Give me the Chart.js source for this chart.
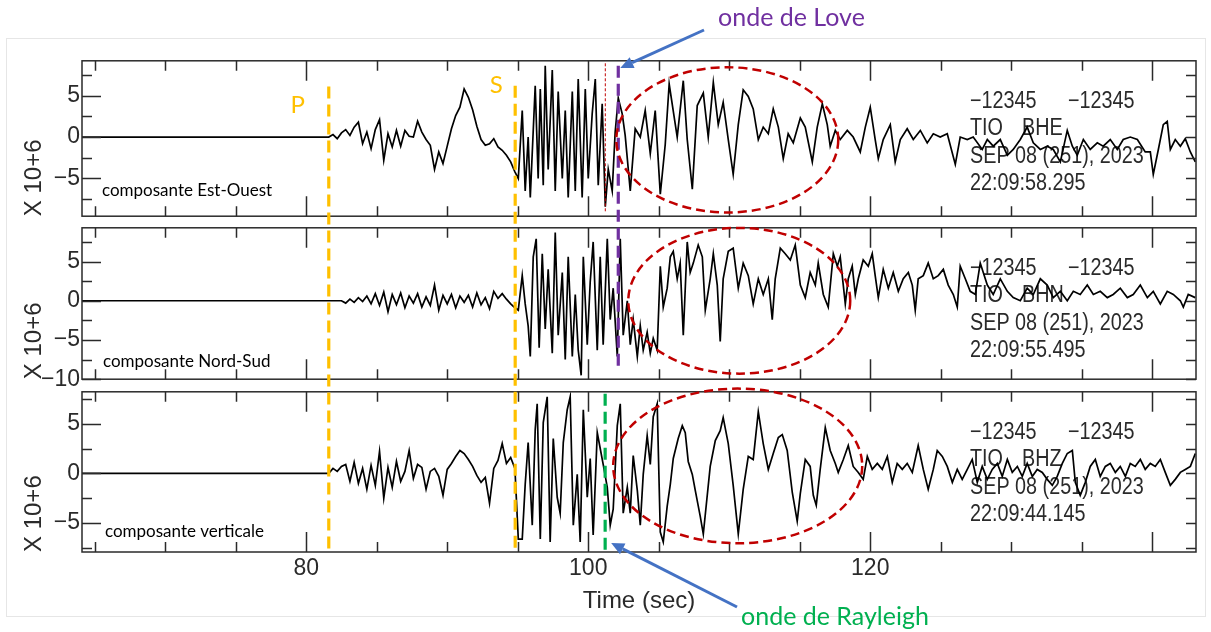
<!DOCTYPE html>
<html>
<head>
<meta charset="utf-8">
<script src="https://cdn.jsdelivr.net/npm/chart.js@4.4.0/dist/chart.umd.min.js"></script>
<style>
  html, body { margin: 0; padding: 0; background: #fff; }
  #page { position: relative; width: 1211px; height: 632px; overflow: hidden; background: #fff; }
  canvas { position: absolute; left: 0; }
</style>
</head>
<body>
<div id="page">
  <canvas id="ew" width="1211" height="187" style="top:45px"></canvas>
  <canvas id="ns" width="1211" height="183" style="top:212px"></canvas>
  <canvas id="z" width="1211" height="256" style="top:376px"></canvas>
  <canvas id="overlay" width="1211" height="632" style="top:0"></canvas>
</div>
<script>
// Seismogram traces (time in sec, amplitude in 10^6 counts)
const ewTime = [64.1,
  81.6, 81.9, 82.2, 82.5, 82.8, 83.1, 83.4, 83.7, 84.0, 84.3,
  84.6, 84.9, 85.2, 85.5, 85.8, 86.1, 86.4, 86.7, 87.0, 87.3,
  87.6, 87.9, 88.2, 88.5, 88.8, 89.1, 89.4, 89.7, 90.0, 90.3,
  90.6, 90.9, 91.2, 91.5, 91.8, 92.1, 92.4, 92.7, 93.0, 93.3,
  93.6, 93.9, 94.2, 94.5, 94.8,
  95.04, 95.32, 95.53, 95.74, 95.89, 96.24, 96.45, 96.6, 96.81, 96.95,
  97.16, 97.45, 97.66, 97.87, 98.16, 98.37, 98.58, 98.87, 99.08, 99.29,
  99.57, 99.79, 100.0, 100.28, 100.5, 100.71, 100.99, 101.21, 101.42, 101.7,
  101.91, 102.13, 102.41, 102.62, 102.98, 103.33, 103.69, 104.04, 104.4, 104.75,
  105.11, 105.46, 105.74, 106.31, 106.74, 107.02, 107.38, 107.73, 108.16, 108.51,
  108.87, 109.22, 109.57, 109.93, 110.28, 110.64, 110.99, 111.35, 111.7, 112.06,
  112.41, 112.77, 113.12, 113.48, 113.83, 114.18, 114.54,
  115.04, 115.39, 115.89, 116.24, 116.6, 116.95, 117.16, 117.52, 117.87, 118.37,
  118.79, 119.29, 119.65, 120.0, 120.35, 120.57, 120.92, 121.42, 121.77, 122.13,
  122.62, 123.05, 123.55, 124.04, 124.47, 124.96, 125.46, 126.03, 126.38, 126.88,
  127.3, 127.94, 128.3, 128.72, 129.22, 129.72, 130.14, 130.64, 131.13, 131.56,
  132.06, 132.55, 132.98, 133.48, 133.97, 134.33, 134.68, 135.11, 135.6, 136.1,
  136.52, 137.02, 137.52, 137.94, 138.44, 138.94, 139.5, 139.86, 140.07, 140.43,
  140.78, 141.06, 141.28, 141.63, 141.99, 142.34, 142.7, 143.05];
const ewAmp = [0,
  0, 0.3, -0.2, 0.5, 0.9, 0.2, 1.2, 1.8, -0.8, 0.6,
  -1.4, 0.9, 2.1, -2.8, 0.4, -1.2, 0.8, -1.1, 0.8, 0.1,
  0, 1.9, 0.6, -0.3, -1.0, -3.9, -1.8, -3.2, -1.1, 1.0,
  2.6, 3.6, 5.8, 4.8, 3.3, 1.3, -0.3, -1.0, -0.8, -0.2,
  -1.2, -1.6, -2.2, -3.0, -4.2,
  -5.0, 3.2, -6.5, 0, -7.3, 6.2, -5, 5.8, -5.8, 8.6,
  -3.9, 8.1, -6.5, 5.5, -5, 3.2, -7.3, 5.5, -6.5, 7.0,
  -7.3, 5.8, -5, 2.8, 7.0, -5.8, 4.0, -8.4, -3.9, -6.5,
  0.6, 4.7, 2.8, 0.2, -6.5, 1, 0, 3.2, -2, 3.2,
  -6.9, -0.9, 6.4, 0, 6.8, -0.3, -6.3, 3.8, 5.3, 0,
  6.6, 1.5, 4.2, -0.3, -4.5, 1.5, 5.7, 4.9, 3.4, -0.3,
  1.2, 0.4, 3.4, 1.2, -2.6, 0.4, -0.7,
  2.3, 1.2, -3.0, 1.2, 4.0, 1.5, -1.1, 0.8, -0.3, 0.8,
  0, -1.8, 1.2, 3.6, -0.3, -2.6, -0.3, 1.5, -3.0, -0.3,
  1.0, -0.3, 0.8, -0.7, 0.4, 0, 0.4, -3.3, 0, -0.3,
  0, -1.5, -0.3, -1.1, -0.3, -2.2, -1.5, -0.3, 1.2, -0.7,
  -1.5, -1.1, -1.5, -3.0, 0.8, -1.1, -2.2, -0.3, -1.5, -0.7,
  -1.1, -0.3, -1.5, -0.3, 0, -0.3, -1.8, -1.8, -4.5, -1.5,
  1.5, 1.9, -1.5, -0.3, -1.1, -0.2, -1.8, -3.0];

const nsTime = [64.1,
  82.5, 82.8, 83.1, 83.4, 83.7, 84.0, 84.3, 84.6, 84.9, 85.2,
  85.5, 85.8, 86.1, 86.4, 86.7, 87.0, 87.3, 87.6, 87.9, 88.2,
  88.5, 88.8, 89.1, 89.4, 89.7, 90.0, 90.3, 90.6, 90.9, 91.2,
  91.5, 91.8, 92.1, 92.4, 92.7, 93.0, 93.3, 93.6, 93.9, 94.2,
  94.5, 94.8,
  95.04, 95.32, 95.53, 95.74, 95.89, 96.1, 96.31, 96.52, 96.74, 96.95,
  97.16, 97.45, 97.66, 97.87, 98.16, 98.37, 98.58, 98.87, 99.08, 99.29,
  99.5, 99.65, 99.93, 100.14, 100.35, 100.64, 100.85, 101.06, 101.35, 101.56,
  101.77, 102.06, 102.27, 102.48, 102.77, 102.98, 103.19, 103.48, 103.69, 103.9,
  104.18, 104.4, 104.61, 104.89, 105.11, 105.32, 105.6, 105.82, 106.03, 106.31,
  106.52, 106.74, 107.02, 107.23, 107.45, 107.8, 108.09, 108.3, 108.65, 108.87,
  109.15, 109.36, 109.57, 109.93, 110.28, 110.64, 110.99, 111.35, 111.7, 112.06,
  112.41, 112.77, 113.05, 113.26, 113.62, 113.97, 114.33, 114.68,
  115.04, 115.39, 115.74, 116.1, 116.31, 116.67, 117.02, 117.38, 117.66, 117.87,
  118.23, 118.44, 118.72, 118.94, 119.15, 119.5, 119.86, 120.14, 120.35, 120.57,
  120.92, 121.28, 121.63, 121.99, 122.34, 122.7, 122.98, 123.19, 123.4, 123.76,
  124.11, 124.47, 124.82, 125.18, 125.53, 125.89, 126.17, 126.38, 126.74, 127.09,
  127.45, 127.8, 128.3, 128.72, 129.22, 129.72, 130.14, 130.64, 131.13, 131.56,
  132.06, 132.55, 132.98, 133.48, 133.97, 134.4, 134.89, 135.39, 135.82, 136.31,
  136.81, 137.23, 137.73, 138.23, 138.65, 139.15, 139.65, 140.07, 140.57, 141.06,
  141.49, 141.99, 142.2, 142.55, 143.05];
const nsAmp = [0,
  0, -0.3, 0.2, -0.2, 0.4, -0.1, 0.6, -0.4, 0.9, -0.6,
  1.1, -1.4, 0.8, -0.5, 1.0, -0.9, 0.6, -0.3, 0.9, -0.8,
  0.5, -0.6, 2.0, -1.2, 0.7, -0.4, 0.8, -0.9, 0.6, -0.2,
  0.7, -0.8, 1.0, -0.5, 0.4, -1.0, 1.2, 0.3, 0.9, 0.2,
  -0.4, -0.9,
  -1.2, 3.2, -0.4, -3.2, -7.1, 5.6, 7.9, -6.0, 6.0, -3.6,
  4, -6.7, 8.7, -4.4, 3.6, -7.5, 5.6, -7.1, 0.8, -6.3,
  -9.5, 5.6, -5.6, 2.4, 7.5, -6.3, 5.6, -5.6, 7.9, -2.4,
  1.6, -7.1, 7.9, -4.4, 0, -5.6, -2.4, -7.1, -3.2, -6.3,
  -4, -6.7, -4.8, -6.3, 4.4, -0.8, 1.6, 5.6, 6.3, 2.8,
  4.8, -4.4, 7.5, 3.6, 4.8, 7.1, 5.6, -1.2, 2.8, 6.0,
  2.0, -5.2, 2.8, 6.3, 6.7, 1.6, 4.8, 3.2, -0.4, 2.8,
  0.8, 2.8, -2.4, 2.8, 6.7, 6.0, 5.2, 7.1,
  2.0, 0.4, 3.6, 2.0, 4.8, 0.8, -0.8, 6.0, 4.4, 5.6,
  -0.4, 2.8, 4.4, 0.8, 2.8, 5.2, 4.4, 6.0, 3.2, 0.4,
  4.0, 1.6, 3.6, 1.2, 2.8, 3.6, 2.0, -1.2, 2.8, 3.2,
  4.8, 2.8, 3.2, 4.0, 2.0, 0.8, -0.8, 4.4, 2.8, 1.2,
  0.8, 4.8, 2.0, 0.8, 2.8, 1.2, 0.4, 0, 1.6, 0.8,
  2.8, 2.0, 0.4, 1.2, 0, 1.2, 0.8, 2.0, 0.8, 1.2,
  0.4, 0.8, 1.6, 0.4, 0.8, 2.0, 0.4, 1.2, -0.4, 1.2,
  0.8, 0, -0.8, 0.8, 0.4];

const zTime = [64.1,
  81.6, 81.9, 82.2, 82.5, 82.8, 83.1, 83.4, 83.7, 84.0, 84.3,
  84.6, 84.9, 85.2, 85.5, 85.8, 86.1, 86.4, 86.7, 87.0, 87.3,
  87.6, 87.9, 88.2, 88.5, 88.8, 89.1, 89.4, 89.7, 90.0, 90.3,
  90.6, 90.9, 91.2, 91.5, 91.8, 92.1, 92.4, 92.7, 93.0, 93.3,
  93.6, 93.9, 94.2, 94.5, 94.8,
  95.04, 95.32, 95.53, 95.74, 96.03, 96.24, 96.38, 96.6, 96.81, 97.09,
  97.3, 97.52, 97.8, 98.01, 98.23, 98.51, 98.72, 98.94, 99.22, 99.43,
  99.65, 99.93, 100.14, 100.35, 100.64, 100.85, 101.06, 101.35, 101.56, 101.77,
  102.06, 102.27, 102.48, 102.77, 102.98, 103.19, 103.48, 103.69, 103.9, 104.18,
  104.4, 104.61, 104.89, 105.11, 105.32, 105.6, 105.82, 106.03, 106.38, 106.67,
  106.88, 107.09, 107.38, 107.59, 107.94, 108.16, 108.65, 109.01, 109.36, 109.57,
  109.93, 110.28, 110.64, 110.99, 111.35, 111.7, 112.06, 112.41, 112.77, 113.12,
  113.48, 113.76, 114.11, 114.47, 114.82, 115.04, 115.39, 115.74, 115.96, 116.17,
  116.45, 116.81, 117.16, 117.52, 117.73, 118.09, 118.44, 118.79, 119.15, 119.5,
  119.79, 120.14, 120.5, 120.85, 121.21, 121.56, 121.91, 122.27, 122.62, 122.98,
  123.4, 123.76, 124.11, 124.47, 124.75, 125.11, 125.46, 125.82, 126.17, 126.52,
  126.88, 127.23, 127.59, 127.94, 128.3, 128.65, 129.01, 129.36, 129.72, 130.07,
  130.43, 130.78, 131.13, 131.49, 131.84, 132.2, 132.55, 132.91, 133.26, 133.62,
  133.97, 134.33, 134.54, 134.89, 135.25, 135.6, 135.96, 136.31, 136.67, 137.02,
  137.38, 137.73, 138.09, 138.44, 138.79, 139.15, 139.5, 139.86, 140.21, 140.57,
  140.92, 141.28, 141.63, 141.99, 142.34, 142.7, 143.05];
const zAmp = [0,
  0, 0.5, 0.2, 0.7, 0.9, -0.8, 1.1, -1.0, 0.5, -1.6,
  0.8, -1.2, 2.2, -2.5, 0.6, -1.4, 1.2, -0.8, 0.2, 2.3,
  -0.5, 0.9, 0.6, -1.6, 0.2, 0.5, -0.3, -2.2, 0.4, 1.0,
  1.7, 2.3, 2.0, 1.4, 0.7, -0.2, -0.9, -0.4, -3.0, 0.5,
  1.3, 3.0, 1.0, 1.6, 0.5,
  -6.6, -6.6, -1.1, 3.1, -5.2, 4.4, 7.0, -6.6, 5.1, 7.7,
  -6.9, 3.5, -2.4, -4.0, 3.1, 6.4, 7.7, -5.2, -0.1, -6.9,
  6.4, -2.4, 1.5, -6.2, 4.1, 2.5, 0.9, -1.4, -5.2, -3.6,
  4.8, 7.0, -4.0, -1.4, -4.0, 1.8, -1.7, -5.2, -0.1, 3.8,
  0.9, 5.7, 7.0, -5.9, -6.9, -3.3, -1.1, 1.5, 3.5, 4.8,
  4.1, 1.2, -0.1, -1.7, -4.3, -6.1, 0.7, 3.3, 4.3, 5.6,
  3.0, -1.2, -6.1, -1.6, 1.7, 1.4, 6.2, 3.0, 0.4, 2.0,
  3.6, 3.9, 2.3, -1.9, -4.8, -2.0, 1.4, 0.7, -2.2, -3.2,
  0.4, 4.6, 2.3, 1.0, 0.1, 1.4, 2.8, 0.7, 0.1, -0.6,
  1.7, 0.4, 1.0, 0.4, 1.7, -0.9, 1.0, 0.4, 1.0, 0.1,
  2.8, 0.4, -1.6, 0.4, 2.3, 1.7, 0.7, -0.9, 0.4, -0.6,
  0.4, 1.4, -0.9, 0.7, -0.6, 0.4, 1.0, -0.3, 1.4, 0.1,
  0.7, -0.3, 1.0, -0.3, 0.4, 0.1, -0.6, -1.2, -0.3, 1.0,
  2.0, 2.3, -0.9, -2.2, -0.9, 0.7, 1.4, -0.3, 0.7, 1.0,
  0.1, 0.7, -0.3, 1.0, 0.7, 1.4, 0.4, 1.0, 0.7, 1.4,
  0.1, -1.2, -0.6, 0.1, 0.4, 0.7, 2.0];

// header text printed by SAC in each panel
const ewHeader = ['\u221212345', '\u221212345', 'TIO', 'BHE', 'SEP 08 (251), 2023', '22:09:58.295'];
const nsHeader = ['\u221212345', '\u221212345', 'TIO', 'BHN', 'SEP 08 (251), 2023', '22:09:55.495'];
const zHeader = ['\u221212345', '\u221212345', 'TIO', 'BHZ', 'SEP 08 (251), 2023', '22:09:44.145'];
const panelLabels = ['composante Est-Ouest', 'composante Nord-Sud', 'composante verticale'];
const timeTickLabels = [80, 100, 120, 140];

// wave arrival picks (sec)
const pTime = 81.6;
const sTime = 94.82;
const loveTime = 102.13;
const rayleighTime = 101.2;

const SAC_FONT = '"Liberation Sans", sans-serif';
const INK = '#2a2a2a';

function fmt(v) {
    return v < 0 ? '\u2212' + Math.abs(v) : String(v);
}

// condensed SAC-like text
function sacText(ctx, str, x, y) {
    ctx.save();
    ctx.translate(x, y);
    ctx.scale(0.86, 1);
    ctx.fillText(str, 0, 0);
    ctx.restore();
}

// SAC style frame: box with inward ticks on all sides, header text and panel label
const sacPlugin = {
    id: 'sac',
    beforeDatasetsDraw(chart, args, opts) {
        const { ctx, chartArea: a } = chart;
        const h = opts.header;
        ctx.save();
        ctx.fillStyle = INK;
        ctx.textBaseline = 'middle';
        ctx.font = '23px ' + SAC_FONT;
        sacText(ctx, h[0], a.left + 888, a.top + 41);
        sacText(ctx, h[1], a.left + 986, a.top + 41);
        sacText(ctx, h[2], a.left + 888, a.top + 68);
        sacText(ctx, h[3], a.left + 940, a.top + 68);
        sacText(ctx, h[4], a.left + 888, a.top + 96);
        sacText(ctx, h[5], a.left + 888, a.top + 123);
        ctx.fillStyle = '#000';
        ctx.font = '17px Lato, "Open Sans", sans-serif';
        ctx.fillText(opts.label, a.left + opts.labelDx, a.top + opts.labelDy);
        ctx.restore();
    },
    afterDraw(chart) {
        const { ctx, chartArea: a, scales } = chart;
        const xs = scales.x, ys = scales.y;
        ctx.save();
        ctx.strokeStyle = INK;
        ctx.lineWidth = 1.5;
        ctx.strokeRect(a.left, a.top, a.right - a.left, a.bottom - a.top);
        ctx.beginPath();
        for (let t = Math.ceil(xs.min / 5) * 5; t <= xs.max; t += 5) {
            const px = Math.round(xs.getPixelForValue(t)) + 0.5;
            const len = t % 20 === 0 ? 20 : 10;
            ctx.moveTo(px, a.top); ctx.lineTo(px, a.top + len);
            ctx.moveTo(px, a.bottom); ctx.lineTo(px, a.bottom - len);
        }
        for (let v = Math.ceil(ys.min / 2.5) * 2.5; v <= ys.max; v += 2.5) {
            const py = Math.round(ys.getPixelForValue(v)) + 0.5;
            const len = v % 5 === 0 ? 19 : 10;
            ctx.moveTo(a.left, py); ctx.lineTo(a.left + len, py);
            ctx.moveTo(a.right, py); ctx.lineTo(a.right - 10, py);
        }
        ctx.stroke();
        ctx.restore();
    }
};

function makePanel(id, time, amp, yMin, yMax, header, label, labelDx, labelDy, showTime) {
    const ctx = document.getElementById(id).getContext('2d');
    const xAxis = {
        type: 'linear',
        min: 64.1,
        max: 143.1,
        display: showTime,
        grid: { display: false, drawTicks: false },
        border: { display: false },
        ticks: {
            stepSize: 5,
            autoSkip: false,
            maxRotation: 0,
            padding: 3,
            color: INK,
            font: { family: SAC_FONT, size: 23 },
            callback: v => timeTickLabels.includes(v) ? String(v) : ''
        },
        title: {
            display: true,
            text: 'Time (sec)',
            color: INK,
            font: { family: SAC_FONT, size: 24 },
            padding: { top: 0, bottom: 16 }
        }
    };
    if (showTime) xAxis.afterFit = s => { s.height = 80; };
    return new Chart(ctx, {
        type: 'line',
        data: {
            datasets: [{
                data: time.map((t, i) => ({ x: t, y: amp[i] })),
                borderColor: '#000',
                borderWidth: 1.7,
                pointRadius: 0,
                tension: 0,
                fill: false
            }]
        },
        options: {
            responsive: false,
            animation: false,
            events: [],
            layout: { padding: { left: 0, right: 15, top: 10, bottom: showTime ? 0 : 10 } },
            plugins: {
                legend: { display: false },
                tooltip: { enabled: false },
                sac: { header: header, label: label, labelDx: labelDx, labelDy: labelDy }
            },
            scales: {
                x: xAxis,
                y: {
                    min: yMin,
                    max: yMax,
                    grid: { display: false, drawTicks: false },
                    border: { display: false },
                    ticks: {
                        stepSize: 2.5,
                        autoSkip: false,
                        padding: 2,
                        color: INK,
                        font: { family: SAC_FONT, size: 23 },
                        callback: v => Math.abs(v % 5) < 1e-9 ? fmt(v) : ''
                    },
                    title: {
                        display: true,
                        text: 'X 10+6',
                        align: 'start',
                        color: INK,
                        font: { family: SAC_FONT, size: 24 },
                        padding: { top: 20, bottom: 0 }
                    },
                    afterFit: s => { s.width = 82; }
                }
            }
        },
        plugins: [sacPlugin]
    });
}

const canvasTops = [45, 212, 376];
const charts = [
    makePanel('ew', ewTime, ewAmp, -9.55, 9.2, ewHeader, panelLabels[0], 20, 130, false),
    makePanel('ns', nsTime, nsAmp, -10, 9.3, nsHeader, panelLabels[1], 21, 134, false),
    makePanel('z', zTime, zAmp, -7.9, 8.2, zHeader, panelLabels[2], 23, 140, true)
];

// annotations drawn on top of the three panels
const ov = document.getElementById('overlay').getContext('2d');
const tx = t => charts[2].scales.x.getPixelForValue(t);
const ty = (i, v) => canvasTops[i] + charts[i].scales.y.getPixelForValue(v);

function vline(t, i0, v0, i1, v1, color, width, dash) {
    ov.save();
    ov.strokeStyle = color;
    ov.lineWidth = width;
    ov.setLineDash(dash);
    ov.beginPath();
    ov.moveTo(tx(t), ty(i0, v0));
    ov.lineTo(tx(t), ty(i1, v1));
    ov.stroke();
    ov.restore();
}

function ellipse(i, tc, halfT, vc, halfV) {
    const cx = tx(tc), cy = ty(i, vc);
    const rx = tx(tc + halfT) - cx, ry = ty(i, vc - halfV) - cy;
    ov.save();
    ov.strokeStyle = '#C00000';
    ov.lineWidth = 2.5;
    ov.setLineDash([9, 5]);
    ov.beginPath();
    ov.ellipse(cx, cy, rx, ry, 0, 0, Math.PI * 2);
    ov.stroke();
    ov.restore();
}

function arrow(x0, y0, x1, y1) {
    const ang = Math.atan2(y1 - y0, x1 - x0);
    const bx = x1 - 13 * Math.cos(ang), by = y1 - 13 * Math.sin(ang);
    ov.save();
    ov.strokeStyle = '#4472C4';
    ov.fillStyle = '#4472C4';
    ov.lineWidth = 3;
    ov.beginPath();
    ov.moveTo(x0, y0);
    ov.lineTo(bx, by);
    ov.stroke();
    ov.beginPath();
    ov.moveTo(x1, y1);
    ov.lineTo(bx + 6 * Math.sin(ang), by - 6 * Math.cos(ang));
    ov.lineTo(bx - 6 * Math.sin(ang), by + 6 * Math.cos(ang));
    ov.closePath();
    ov.fill();
    ov.restore();
}

// light outer frame of the figure
ov.strokeStyle = '#e6e6e6';
ov.lineWidth = 1;
ov.strokeRect(6.5, 38.5, 1199, 578);

vline(pTime, 0, 6.1, 2, -7.7, '#FFC000', 3.2, [12, 6]);
vline(sTime, 0, 6.2, 2, -7.7, '#FFC000', 3.2, [12, 6]);
vline(101.21, 0, 8.9, 0, -9.2, '#C00000', 1, [3, 2]);
vline(loveTime, 0, 8.6, 1, -8.9, '#7030A0', 3.2, [12, 6]);
vline(rayleighTime, 2, 8.0, 2, -7.7, '#00B050', 3.2, [12, 6]);

ellipse(0, 109.86, 7.87, -0.34, 8.76);
ellipse(1, 110.71, 7.87, 0, 9.29);
ellipse(2, 110.6, 8.83, 0.75, 7.77);

ov.font = '24px Lato, "Open Sans", sans-serif';
ov.textAlign = 'center';
ov.textBaseline = 'middle';
ov.fillStyle = '#FFC000';
ov.fillText('P', tx(pTime) - 31, 105);
ov.fillText('S', tx(sTime) - 19, 85);

ov.font = '25px Lato, "Open Sans", sans-serif';
ov.textAlign = 'left';
ov.fillStyle = '#7030A0';
ov.fillText('onde de Love', 718, 18);
ov.fillStyle = '#00B050';
ov.fillText('onde de Rayleigh', 741, 617);

arrow(704, 30, tx(loveTime) + 2, 68);
arrow(737, 607, tx(rayleighTime) + 6, 543);
</script>
</body>
</html>
